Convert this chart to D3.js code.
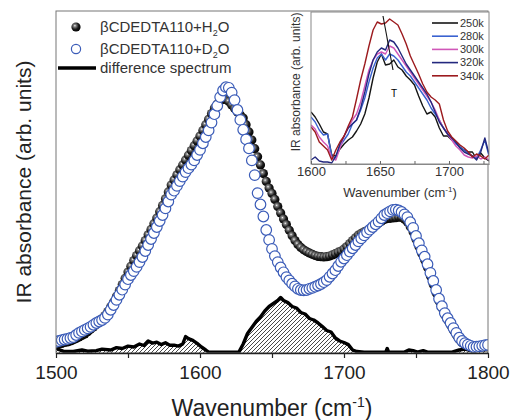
<!DOCTYPE html>
<html>
<head>
<meta charset="utf-8">
<script src="https://cdnjs.cloudflare.com/ajax/libs/d3/7.8.5/d3.min.js"></script>
<style>
  body { margin: 0; background: #fff; }
  svg { font-family: "Liberation Sans", Arial, sans-serif; }
</style>
</head>
<body>
<script>
// main spectra, sampled every 2 cm-1 from 1500 to 1800
var wavenumbers = d3.range(1500, 1801, 2);

var h2o = [
    2.7, 3.0, 3.2, 3.5, 3.7, 4.0, 4.4, 4.8, 5.3, 5.8,
    6.3, 7.1, 7.9, 8.7, 9.5, 10.3, 11.4, 12.5, 13.8, 15.4,
    17.0, 18.9, 20.8, 22.8, 24.9, 27.0, 28.9, 30.8, 32.5, 34.1,
    35.7, 37.5, 39.4, 41.2, 43.1, 45.0, 47.1, 49.2, 51.4, 53.7,
    56.0, 57.7, 59.4, 61.1, 62.7, 64.3, 65.9, 67.5, 69.1, 70.7,
    72.3, 74.2, 76.1, 77.9, 79.8, 81.7, 83.0, 84.1, 84.6, 84.5,
    83.8, 82.7, 81.5, 80.3, 79.3, 78.3, 76.1, 73.7, 71.0, 68.1,
    65.4, 62.7, 59.8, 57.2, 55.0, 53.2, 51.2, 48.8, 46.7, 44.7,
    42.8, 40.9, 39.1, 37.5, 36.2, 35.2, 34.4, 33.8, 33.3, 32.9,
    32.5, 32.2, 32.1, 32.0, 32.1, 32.3, 32.7, 33.1, 33.6, 34.0,
    34.7, 35.5, 36.5, 37.5, 38.4, 39.3, 39.9, 40.4, 40.8, 41.3,
    42.0, 42.7, 43.3, 43.9, 44.5, 44.8, 44.9, 45.0, 45.1, 45.3,
    45.2, 44.6, 43.7, 42.1, 40.3, 37.9, 35.5, 33.2, 31.0, 28.5,
    25.7, 22.8, 20.0, 17.3, 15.0, 12.7, 11.0, 9.3, 7.6, 6.0,
    4.5, 3.4, 2.6, 2.2, 1.9, 1.7, 1.8, 1.9, 2.0, 2.0,
    2.0
];

var d2o = [
    3.7, 4.0, 4.3, 4.5, 4.7, 5.0, 5.3, 6.0, 6.7, 7.2,
    7.7, 8.2, 8.7, 9.4, 10.0, 10.5, 11.0, 11.7, 12.8, 14.4,
    16.0, 17.7, 19.4, 21.1, 22.8, 24.6, 26.0, 27.3, 28.7, 30.3,
    32.0, 34.0, 36.0, 38.0, 40.0, 42.0, 44.0, 46.0, 48.2, 50.5,
    52.8, 54.1, 55.7, 57.3, 58.8, 60.3, 61.6, 62.8, 64.2, 66.0,
    67.7, 69.9, 72.0, 74.2, 76.8, 79.6, 82.4, 85.3, 87.5, 88.6,
    88.4, 86.8, 84.3, 81.0, 77.7, 74.4, 71.2, 68.2, 64.2, 59.3,
    53.3, 49.5, 45.5, 41.0, 37.7, 34.7, 32.3, 30.3, 28.5, 26.9,
    25.3, 24.2, 23.1, 22.2, 21.4, 21.0, 20.9, 21.0, 21.4, 21.7,
    22.1, 22.5, 23.0, 23.6, 24.3, 25.4, 26.5, 27.6, 29.0, 30.4,
    31.5, 32.6, 33.8, 34.9, 36.0, 37.2, 38.2, 39.2, 40.2, 41.1,
    42.0, 42.9, 43.8, 44.9, 46.0, 46.6, 47.2, 47.7, 47.8, 47.5,
    47.0, 46.2, 45.3, 43.6, 41.7, 39.0, 36.6, 34.2, 32.1, 29.6,
    26.7, 24.0, 21.0, 18.1, 15.6, 13.3, 11.6, 10.0, 8.3, 6.7,
    5.1, 4.0, 3.3, 2.8, 2.4, 2.0, 2.1, 2.2, 2.4, 2.6,
    2.7
];

// difference spectrum
var diffWn = [1500, 1505, 1512, 1518, 1522, 1528, 1532, 1538, 1542, 1546,
    1550, 1554, 1558, 1561, 1564, 1567, 1570, 1573, 1576, 1579,
    1582, 1585, 1588, 1590, 1592, 1595, 1598, 1601, 1604, 1606,
    1610, 1620, 1627, 1630, 1633, 1636, 1639, 1642, 1645, 1648,
    1651, 1654, 1656, 1658, 1661, 1664, 1667, 1670, 1673, 1676,
    1679, 1682, 1685, 1688, 1691, 1694, 1697, 1700, 1703, 1706,
    1709, 1714, 1720, 1729, 1730, 1731, 1742, 1745, 1748, 1751,
    1755, 1758, 1775, 1780, 1784, 1788, 1792, 1796, 1800];
var diffVal = [1.5, 0.6, 0.5, 1.0, 0.6, 0.8, 1.3, 1.0, 1.8, 1.5,
    2.3, 2.0, 3.0, 2.5, 4.0, 3.3, 3.6, 2.8, 3.4, 2.6,
    2.6, 2.3, 3.0, 5.5, 4.8, 4.2, 3.2, 2.0, 1.0, 0.3,
    0.3, 0.3, 0.3, 3.0, 6.5, 8.5, 10.5, 12.0, 14.0, 15.5,
    16.5, 17.5, 18.5, 17.5, 16.8, 15.5, 15.0, 13.5, 13.0, 11.5,
    11.0, 10.0, 8.8, 7.5, 7.0, 5.0, 4.0, 3.5, 2.8, 1.0,
    0.5, 0.3, 0.3, 0.3, 1.5, 0.3, 0.3, 1.0, 0.8, 0.3,
    0.8, 0.3, 0.3, 1.0, 1.3, 0.8, 1.5, 1.3, 1.5];

// inset: temperature series, every 3 cm-1 from 1600 to 1729
var insetWn = d3.range(1600, 1730, 3);
var temps = ["250k", "280k", "300k", "320k", "340k"];
var t250 = [52, 47, 40, 32, 30, 9, 8, 15, 20, 24, 27, 33, 40, 50, 66, 86, 102, 110, 99, 100,
    104, 97, 94, 88, 84, 79, 68, 58, 50, 52, 47, 36, 28, 28, 24, 21, 17, 14, 12, 12, 5, 11, 6, 3];
var t280 = [47, 42, 34, 29, 30, 8, 6, 18, 24, 30, 40, 44, 54, 66, 82, 96, 106, 110, 104, 110,
    108, 104, 98, 92, 88, 82, 76, 70, 64, 56, 50, 44, 36, 30, 25, 20, 17, 14, 11, 8, 6, 14, 24, 8];
var t300 = [39, 35, 27, 22, 18, 6, 4, 16, 28, 36, 44, 50, 62, 78, 94, 104, 110, 112, 110, 118,
    116, 110, 104, 98, 92, 86, 80, 74, 68, 62, 54, 44, 36, 30, 24, 18, 14, 9, 7, 6, 8, 5, 7, 4];
var t320 = [4, 7, 3, 2, 2, 1, 8, 20, 28, 36, 40, 44, 56, 72, 90, 104, 112, 116, 114, 124,
    122, 116, 108, 100, 94, 88, 82, 76, 70, 62, 52, 42, 36, 30, 26, 22, 16, 12, 10, 8, 4, 12, 26, 10];
var t340 = [37, 32, 22, 18, 14, 4, 14, 22, 28, 38, 47, 65, 84, 100, 118, 134, 142, 140, 141, 145,
    142, 139, 130, 120, 108, 99, 90, 80, 72, 67, 64, 60, 44, 33, 27, 23, 19, 16, 12, 7, 10, 8, 5, 9];
var insetSeries = [t250, t280, t300, t320, t340];
var insetColors = ["#151515", "#3a62d0", "#d057b8", "#23287e", "#9c1a1e"];


function draw_chart() {
    var svg = d3.select("body").append("svg").attr("width", 512).attr("height", 420);

    var defs = svg.append("defs");
    var grad = defs.append("radialGradient").attr("id", "ball")
        .attr("cx", "38%").attr("cy", "36%").attr("r", "65%");
    grad.append("stop").attr("offset", "0%").attr("stop-color", "#ffffff");
    grad.append("stop").attr("offset", "18%").attr("stop-color", "#8a8a8a");
    grad.append("stop").attr("offset", "60%").attr("stop-color", "#1c1c1c");
    grad.append("stop").attr("offset", "100%").attr("stop-color", "#000000");

    var hatch = defs.append("pattern").attr("id", "hatch")
        .attr("patternUnits", "userSpaceOnUse").attr("width", 4).attr("height", 4);
    hatch.append("path")
        .attr("d", "M-1,1 l2,-2 M0,4 l4,-4 M3,5 l2,-2")
        .attr("stroke", "#333").attr("stroke-width", 0.9);

    defs.append("clipPath").attr("id", "mainclip")
        .append("rect").attr("x", 56).attr("y", 11).attr("width", 432).attr("height", 342);

    var x = d3.scaleLinear().domain([1500, 1800]).range([56, 488]);
    var y = d3.scaleLinear().domain([0, 114]).range([353, 11]);

    var plot = svg.append("g").attr("clip-path", "url(#mainclip)");

    // difference spectrum (hatched)
    var diff = diffWn.map(function (w, i) { return {w: w, v: diffVal[i]}; });
    plot.append("path")
        .datum(diff)
        .attr("fill", "url(#hatch)")
        .attr("d", d3.area()
            .x(function (d) { return x(d.w); })
            .y0(y(0))
            .y1(function (d) { return y(d.v); }));
    plot.append("path")
        .datum(diff)
        .attr("fill", "none")
        .attr("stroke", "#000")
        .attr("stroke-width", 3.4)
        .attr("stroke-linejoin", "round")
        .attr("d", d3.line()
            .x(function (d) { return x(d.w); })
            .y(function (d) { return y(d.v); }));

    // H2O : shaded spheres
    plot.selectAll(".h2o")
        .data(wavenumbers)
        .enter().append("circle")
        .attr("class", "h2o")
        .attr("cx", function (d) { return x(d); })
        .attr("cy", function (d, i) { return y(h2o[i]); })
        .attr("r", 4.6)
        .attr("fill", "url(#ball)");

    // D2O : open blue circles
    plot.selectAll(".d2o")
        .data(wavenumbers)
        .enter().append("circle")
        .attr("class", "d2o")
        .attr("cx", function (d) { return x(d); })
        .attr("cy", function (d, i) { return y(d2o[i]); })
        .attr("r", 5.3)
        .attr("fill", "#fff")
        .attr("stroke", "#3b5cb8")
        .attr("stroke-width", 1.2);

    // frame
    svg.append("rect")
        .attr("x", 56).attr("y", 11).attr("width", 432).attr("height", 342)
        .attr("fill", "none").attr("stroke", "#777").attr("stroke-width", 1);

    var xAxis = svg.append("g")
        .attr("transform", "translate(0,353)")
        .call(d3.axisBottom(x)
            .tickValues(d3.range(1500, 1801, 50))
            .tickSizeInner(5).tickSizeOuter(0).tickPadding(8)
            .tickFormat(function (d) { return d % 100 === 0 ? d : ""; }));
    xAxis.select(".domain").attr("stroke", "#222").attr("stroke-width", 1.3);
    xAxis.selectAll(".tick line").attr("stroke", "#222").attr("stroke-width", 1.2);
    xAxis.selectAll("text").attr("font-size", 19).attr("fill", "#222")
        .attr("font-family", "Liberation Sans, Arial, sans-serif");

    var xl = svg.append("text")
        .attr("x", 272).attr("y", 416)
        .attr("text-anchor", "middle")
        .attr("font-size", 23).attr("fill", "#222");
    xl.append("tspan").text("Wavenumber (cm");
    xl.append("tspan").attr("font-size", 14).attr("dy", -9).text("-1");
    xl.append("tspan").attr("dy", 9).text(")");

    svg.append("text")
        .attr("transform", "translate(31,182) rotate(-90)")
        .attr("text-anchor", "middle")
        .attr("font-size", 21).attr("fill", "#222")
        .text("IR absorbance (arb. units)");

    // legend
    var leg = svg.append("g");
    leg.append("circle").attr("cx", 76).attr("cy", 27).attr("r", 4.6).attr("fill", "url(#ball)");
    leg.append("circle").attr("cx", 76).attr("cy", 49).attr("r", 4.6)
        .attr("fill", "#fff").attr("stroke", "#3b5cb8").attr("stroke-width", 1.2);
    leg.append("line").attr("x1", 58).attr("x2", 96).attr("y1", 68).attr("y2", 68)
        .attr("stroke", "#000").attr("stroke-width", 3.4);
    var legText = [["βCDEDTA110+H", "O", 32], ["βCDEDTA110+D", "O", 54]];
    legText.forEach(function (t) {
        var tx = leg.append("text").attr("x", 100).attr("y", t[2])
            .attr("font-size", 15).attr("fill", "#333");
        tx.append("tspan").text(t[0]);
        tx.append("tspan").attr("font-size", 9).attr("dy", 4).text("2");
        tx.append("tspan").attr("dy", -4).text(t[1]);
    });
    leg.append("text").attr("x", 100).attr("y", 73)
        .attr("font-size", 15).attr("fill", "#333").text("difference spectrum");

    draw_inset(svg, defs);
}

function draw_inset(svg, defs) {
    var xi = d3.scaleLinear().domain([1600, 1729]).range([311, 489]);
    var yi = d3.scaleLinear().domain([0, 152]).range([164, 12]);

    defs.append("clipPath").attr("id", "insetclip")
        .append("rect").attr("x", 311).attr("y", 12).attr("width", 178).attr("height", 152);

    svg.append("rect")
        .attr("x", 311).attr("y", 12).attr("width", 178).attr("height", 152)
        .attr("fill", "#fff");

    var g = svg.append("g").attr("clip-path", "url(#insetclip)");
    var line = d3.line()
        .x(function (d, i) { return xi(insetWn[i]); })
        .y(function (d) { return yi(d); });

    g.selectAll(".temp")
        .data(insetSeries)
        .enter().append("path")
        .attr("class", "temp")
        .attr("fill", "none")
        .attr("stroke", function (d, i) { return insetColors[i]; })
        .attr("stroke-width", 1.4)
        .attr("stroke-linejoin", "round")
        .attr("d", line);

    // temperature arrow
    svg.append("line")
        .attr("x1", 383).attr("y1", 16).attr("x2", 393).attr("y2", 70)
        .attr("stroke", "#111").attr("stroke-width", 1.1);
    svg.append("text").attr("x", 394).attr("y", 97)
        .attr("text-anchor", "middle").attr("font-size", 10).attr("fill", "#000").text("T");

    svg.append("rect")
        .attr("x", 311).attr("y", 12).attr("width", 178).attr("height", 152)
        .attr("fill", "none").attr("stroke", "#888").attr("stroke-width", 1);

    var ax = svg.append("g")
        .attr("transform", "translate(0,164)")
        .call(d3.axisBottom(xi)
            .tickValues(d3.range(1600, 1730, 25))
            .tickSizeInner(-3).tickSizeOuter(0).tickPadding(3)
            .tickFormat(function (d) { return d % 50 === 0 ? d : ""; }));
    ax.select(".domain").attr("stroke", "#888");
    ax.selectAll(".tick line").attr("stroke", "#666");
    ax.selectAll("text").attr("font-size", 13).attr("fill", "#333")
        .attr("font-family", "Liberation Sans, Arial, sans-serif");

    var xl = svg.append("text")
        .attr("x", 400).attr("y", 197)
        .attr("text-anchor", "middle")
        .attr("font-size", 13).attr("fill", "#333");
    xl.append("tspan").text("Wavenumber (cm");
    xl.append("tspan").attr("font-size", 8).attr("dy", -5).text("-1");
    xl.append("tspan").attr("dy", 5).text(")");

    svg.append("text")
        .attr("transform", "translate(300,82) rotate(-90)")
        .attr("text-anchor", "middle")
        .attr("font-size", 12).attr("fill", "#333")
        .text("IR absorbance (arb. units)");

    var leg = svg.selectAll(".tleg")
        .data(temps)
        .enter().append("g")
        .attr("class", "tleg")
        .attr("transform", function (d, i) { return "translate(0," + (23 + i * 13.2) + ")"; });
    leg.append("line")
        .attr("x1", 432).attr("x2", 458)
        .attr("stroke", function (d, i) { return insetColors[i]; })
        .attr("stroke-width", 1.6);
    leg.append("text")
        .attr("x", 460).attr("dy", "0.35em")
        .attr("font-size", 11).attr("fill", "#333")
        .text(function (d) { return d; });
}

draw_chart();
</script>
</body>
</html>
